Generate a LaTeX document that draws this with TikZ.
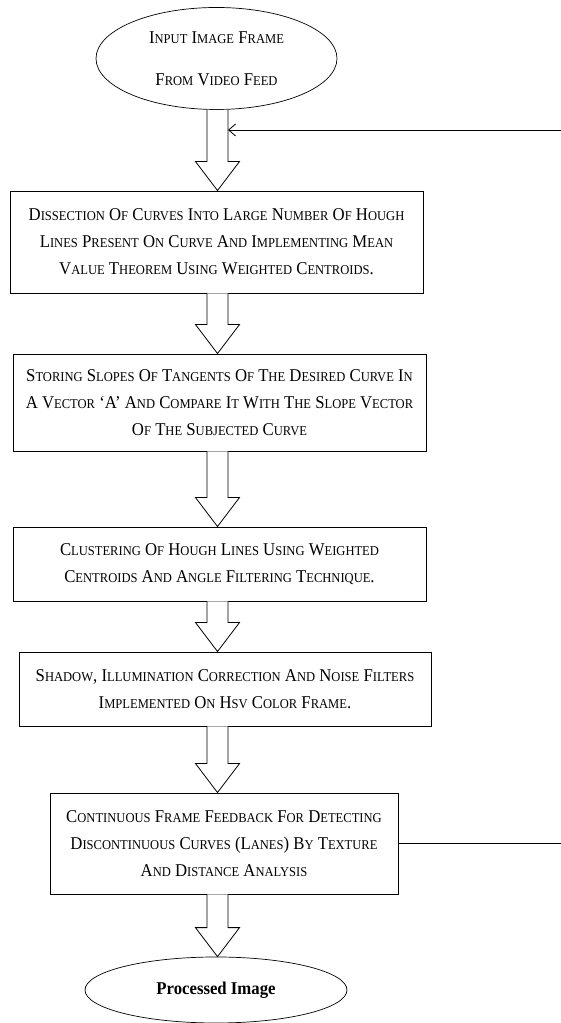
\documentclass[tikz,border=0pt]{standalone}
\usepackage{fontspec}
\setmainfont{Liberation Serif}[FakeStretch=0.93]
\usetikzlibrary{calc}
\usetikzlibrary{arrows.meta}
\usetikzlibrary{shapes}

% fake small caps: lower case runs are set as smaller capitals
\newcommand\smallpart[1]{{\fontsize{13.5}{27}\selectfont\MakeUppercase{#1}}}
\ExplSyntaxOn
\NewDocumentCommand \fsc { m }
  {
    \tl_set:Nn \l_tmpa_tl {#1}
    \regex_replace_all:nnN { ([a-z]+) } { \c{smallpart} \cB\{ \1 \cE\} } \l_tmpa_tl
    \tl_use:N \l_tmpa_tl
  }
\ExplSyntaxOff

% block arrow from the bottom of #1 to the top of #2
\newcommand\fatarrow[2]{%
  \draw[fat] let \p1=(#1.south -| axis), \p2=(#2.north -| axis) in
    (\x1-10.5pt,\y1) -- (\x1-10.5pt,\y2+29pt) -- (\x1-22pt,\y2+29pt) -- (\x2,\y2)
    -- (\x1+22pt,\y2+29pt) -- (\x1+10.5pt,\y2+29pt) -- (\x1+10.5pt,\y1);}

\begin{document}
\begin{tikzpicture}[x=1pt,y=1pt]
\tikzstyle{stepbox}=[draw,line width=0.9pt,minimum width=413pt,inner sep=0pt,align=center,font=\fontsize{18}{27}\selectfont]
\tikzstyle{terminal}=[draw,ellipse,line width=0.7pt,inner sep=0pt,align=center]
\tikzstyle{fat}=[draw,line width=0.8pt,fill=white]
\useasboundingbox (0,0) rectangle (561,1023);
\coordinate (axis) at (217.5,0);

\node[terminal,minimum width=241pt,minimum height=102pt,font=\fontsize{18}{42}\selectfont] (input) at (216.5,964.5) {\fsc{Input Image Frame\\From Video Feed}};
\node[stepbox,minimum height=102pt] (dissect) at (216.5,781) {\fsc{Dissection Of Curves Into Large Number Of Hough\\Lines Present On Curve And Implementing Mean\\Value Theorem Using Weighted Centroids.}};
\node[stepbox,minimum height=97pt] (slopes) at (219.5,620.5) {\fsc{Storing Slopes Of Tangents Of The Desired Curve In\\A Vector ‘A’ And Compare It With The Slope Vector\\Of The Subjected Curve}};
\node[stepbox,minimum height=74pt] (cluster) at (219.5,459) {\fsc{Clustering Of Hough Lines Using Weighted\\Centroids And Angle Filtering Technique.}};
\node[stepbox,minimum width=412pt,minimum height=74pt] (filter) at (225,334) {\fsc{Shadow, Illumination Correction And Noise Filters\\Implemented On Hsv Color Frame.}};
\node[stepbox,minimum width=348pt,minimum height=101pt] (feedback) at (224,179.5) {\fsc{Continuous Frame Feedback For Detecting\\Discontinuous Curves (Lanes) By Texture\\And Distance Analysis}};
\node[terminal,minimum width=262pt,minimum height=66pt,font=\fontsize{18}{24}\selectfont\bfseries] (output) at (216,33) {Processed Image};

\fatarrow{input}{dissect}
\fatarrow{dissect}{slopes}
\fatarrow{slopes}{cluster}
\fatarrow{cluster}{filter}
\fatarrow{filter}{feedback}
\fatarrow{feedback}{output}

% loop back to the first arrow
\coordinate (loopin) at (561,893);
\coordinate (join) at (228,893);
\draw[line width=0.8pt] (feedback.east) -- (feedback.east -| loopin);
\draw[line width=0.8pt,-{Straight Barb[length=7pt,width=12pt]}] (loopin) -- (join);
\end{tikzpicture}
\end{document}
